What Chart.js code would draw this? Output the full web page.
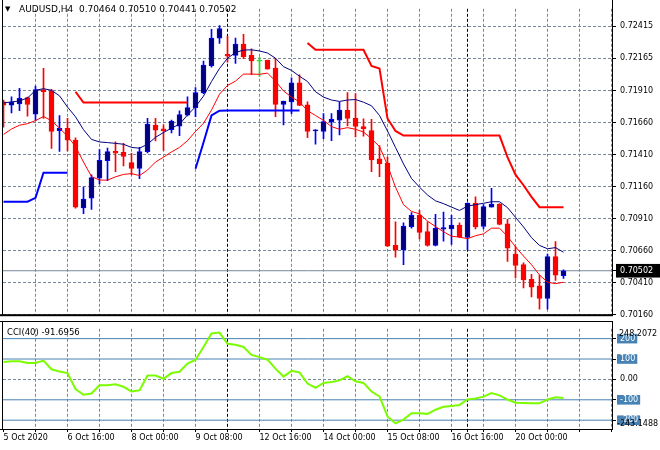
<!DOCTYPE html>
<html>
<head>
<meta charset="utf-8">
<script src="https://cdn.jsdelivr.net/npm/chart.js@4.4.1/dist/chart.umd.min.js"></script>
<style>
  body { margin: 0; background: #fff; }
  #wrap { position: relative; width: 660px; height: 450px; overflow: hidden; font-family: "DejaVu Sans", sans-serif; }
  canvas { position: absolute; left: 0; }
  #main { top: 0; }
  #cci { top: 320px; }
  .lbl { position: absolute; white-space: pre; color: #000; line-height: 1; }
</style>
</head>
<body>
<div id="wrap">
  <canvas id="main" width="660" height="324"></canvas>
  <canvas id="cci" width="660" height="130"></canvas>
  <div class="lbl" style="left:5px;top:6px;font-size:7px">▼</div>
  <div class="lbl" id="title" style="left:19px;top:5px;font-size:9px"></div>
  <div class="lbl" id="cciTitle" style="left:7px;top:328px;font-size:8.5px"></div>
</div>
<script>
const symbol = 'AUDUSD,H4';

const openPrices = [
  0.71823, 0.71797, 0.71808, 0.71857, 0.71728, 0.71920, 0.71909, 0.71598, 0.71616, 0.71525,
  0.70994, 0.71070, 0.71226, 0.71363, 0.71436, 0.71429, 0.71348, 0.71302, 0.71434, 0.71641,
  0.71613, 0.71606, 0.71634, 0.71719, 0.71778, 0.71894, 0.72104, 0.72322, 0.72195, 0.72187,
  0.72276, 0.72187, 0.72142, 0.72150, 0.72089, 0.71803, 0.71823, 0.71973, 0.71800, 0.71596,
  0.71592, 0.71666, 0.71681, 0.71757, 0.71694, 0.71631, 0.71598, 0.71378, 0.71345, 0.70700,
  0.70665, 0.70847, 0.70936, 0.70809, 0.70700, 0.70827, 0.70829, 0.70860, 0.70763, 0.71032,
  0.70848, 0.70999, 0.71024, 0.70870, 0.70632, 0.70551, 0.70435, 0.70384, 0.70285, 0.70612,
  0.70464
];
const highPrices = [
  0.71838, 0.71863, 0.71929, 0.71861, 0.71948, 0.72087, 0.71922, 0.71717, 0.71694, 0.71543,
  0.71156, 0.71252, 0.71451, 0.71461, 0.71510, 0.71499, 0.71421, 0.71467, 0.71694, 0.71694,
  0.71643, 0.71681, 0.71753, 0.71863, 0.71935, 0.72142, 0.72392, 0.72420, 0.72339, 0.72322,
  0.72352, 0.72238, 0.72172, 0.72150, 0.72162, 0.71829, 0.72011, 0.72036, 0.71823, 0.71607,
  0.71732, 0.71732, 0.71821, 0.71897, 0.71889, 0.71690, 0.71687, 0.71482, 0.71391, 0.70885,
  0.70877, 0.70958, 0.70974, 0.70885, 0.70943, 0.70962, 0.70936, 0.70877, 0.71034, 0.71080,
  0.71019, 0.71146, 0.71027, 0.70905, 0.70691, 0.70564, 0.70473, 0.70467, 0.70632, 0.70731,
  0.70510
];
const lowPrices = [
  0.71626, 0.71738, 0.71755, 0.71712, 0.71679, 0.71694, 0.71459, 0.71436, 0.71440, 0.70992,
  0.70948, 0.70981, 0.71181, 0.71206, 0.71277, 0.71322, 0.71252, 0.71222, 0.71425, 0.71518,
  0.71444, 0.71580, 0.71560, 0.71713, 0.71707, 0.71888, 0.72096, 0.72281, 0.72134, 0.72124,
  0.72162, 0.72036, 0.72023, 0.72079, 0.71707, 0.71643, 0.71732, 0.71793, 0.71543, 0.71492,
  0.71535, 0.71520, 0.71565, 0.71636, 0.71550, 0.71555, 0.71277, 0.71239, 0.70693, 0.70609,
  0.70549, 0.70835, 0.70751, 0.70695, 0.70697, 0.70733, 0.70708, 0.70761, 0.70666, 0.70829,
  0.70829, 0.70999, 0.70860, 0.70574, 0.70446, 0.70367, 0.70298, 0.70202, 0.70202, 0.70427,
  0.70441
];
const closePrices = [
  0.71797, 0.71821, 0.71851, 0.71803, 0.71920, 0.71903, 0.71593, 0.71616, 0.71524, 0.70999,
  0.71062, 0.71231, 0.71366, 0.71434, 0.71423, 0.71396, 0.71302, 0.71434, 0.71649, 0.71603,
  0.71599, 0.71674, 0.71725, 0.71778, 0.71897, 0.72112, 0.72322, 0.72398, 0.72182, 0.72276,
  0.72175, 0.72144, 0.72142, 0.72079, 0.71803, 0.71829, 0.71973, 0.71795, 0.71592, 0.71601,
  0.71669, 0.71687, 0.71760, 0.71694, 0.71631, 0.71613, 0.71370, 0.71340, 0.70695, 0.70662,
  0.70852, 0.70936, 0.70801, 0.70700, 0.70833, 0.70839, 0.70860, 0.70769, 0.71032, 0.70845,
  0.71004, 0.71024, 0.70864, 0.70678, 0.70543, 0.70430, 0.70374, 0.70285, 0.70612, 0.70467,
  0.70502
];

// navy average and red average
const maSlow = [
  0.71816, 0.71823, 0.71831, 0.71854, 0.71914, 0.71927, 0.71914, 0.71871, 0.71783, 0.71707,
  0.71606, 0.71530, 0.71510, 0.71505, 0.71499, 0.71492, 0.71467, 0.71461, 0.71492, 0.71546,
  0.71584, 0.71618, 0.71649, 0.71721, 0.71785, 0.71869, 0.71983, 0.72085, 0.72165, 0.72210,
  0.72229, 0.72231, 0.72222, 0.72206, 0.72165, 0.72099, 0.72070, 0.72024, 0.71983, 0.71903,
  0.71861, 0.71838, 0.71827, 0.71838, 0.71842, 0.71821, 0.71793, 0.71717, 0.71596, 0.71467,
  0.71338, 0.71224, 0.71156, 0.71095, 0.71049, 0.71027, 0.71000, 0.70974, 0.71008, 0.71019,
  0.71030, 0.71042, 0.71042, 0.70996, 0.70920, 0.70845, 0.70761, 0.70700, 0.70674, 0.70683,
  0.70647
];
const maFast = [
  0.71569, 0.71611, 0.71641, 0.71653, 0.71677, 0.71709, 0.71675, 0.71618, 0.71555, 0.71474,
  0.71353, 0.71239, 0.71212, 0.71211, 0.71237, 0.71256, 0.71262, 0.71247, 0.71290, 0.71353,
  0.71391, 0.71432, 0.71467, 0.71520, 0.71592, 0.71656, 0.71759, 0.71884, 0.71952, 0.71986,
  0.72041, 0.72041, 0.72039, 0.72049, 0.71986, 0.71909, 0.71861, 0.71823, 0.71755, 0.71717,
  0.71679, 0.71630, 0.71609, 0.71622, 0.71609, 0.71588, 0.71535, 0.71474, 0.71328, 0.71156,
  0.71019, 0.70966, 0.70947, 0.70890, 0.70848, 0.70807, 0.70772, 0.70765, 0.70753, 0.70776,
  0.70791, 0.70835, 0.70835, 0.70771, 0.70689, 0.70617, 0.70549, 0.70469, 0.70412, 0.70401,
  0.70412
];

// thick step lines (null = no line)
const resistance = [
  null, null, null, null, null, null, null, null, null, 0.71903,
  0.71818, 0.71818, 0.71818, 0.71818, 0.71818, 0.71818, 0.71818, 0.71818, 0.71818, 0.71818,
  0.71818, 0.71818, 0.71818, 0.71818, null, null, null, null, null, null,
  null, null, null, null, null, null, null, null, 0.72284, 0.72231,
  0.72231, 0.72231, 0.72231, 0.72231, 0.72231, 0.72231, 0.72104, 0.72085, 0.71694, 0.71596,
  0.71560, 0.71560, 0.71560, 0.71560, 0.71560, 0.71560, 0.71560, 0.71560, 0.71560, 0.71560,
  0.71560, 0.71560, 0.71560, 0.71391, 0.71254, 0.71171, 0.71080, 0.70999, 0.70999, 0.70999,
  0.70999
];
const support = [
  0.71042, 0.71042, 0.71042, 0.71042, 0.71072, 0.71269, 0.71269, 0.71269, 0.71269, null,
  null, null, null, null, null, null, null, null, null, null,
  null, null, null, null, 0.71300, 0.71505, 0.71717, 0.71755, 0.71757, 0.71757,
  0.71757, 0.71757, 0.71757, 0.71757, 0.71757, 0.71757, 0.71757, 0.71757, null, null,
  null, null, null, null, null, null, null, null, null, null,
  null, null, null, null, null, null, null, null, null, null,
  null, null, null, null, null, null, null, null, null, null,
  null
];

const cciValues = [
  85.8, 88.9, 88.9, 81.1, 81.1, 92.0, 49.9, 38.9, 31.1, -47.0,
  -75.2, -68.9, -28.3, -28.3, -23.6, -36.1, -59.5, -53.3, 18.6, 18.6,
  3.0, 31.1, 37.3, 78.0, 96.7, 159.2, 224.9, 229.6, 174.9, 170.2,
  159.2, 120.2, 109.2, 96.7, 53.0, 13.9, 42.0, 34.2, -20.5, -40.8,
  -17.3, -12.7, -4.8, 15.5, -9.5, -17.3, -59.5, -83.0, -181.4, -215.8,
  -197.0, -165.8, -165.8, -168.9, -148.6, -134.5, -129.9, -125.2, -98.6, -93.9,
  -84.5, -67.4, -78.3, -98.6, -114.2, -115.8, -117.3, -117.3, -98.6, -87.7,
  -91.6956
];
const cciPeriod = 40;
const cciMax = 248.2072;
const cciMin = -243.1488;
const cciTicks = [200, 100, 0, -100, -200];
const cciLevels = [200, 100, -100, -200];

const priceTicks = [0.72415, 0.72165, 0.71910, 0.71660, 0.71410, 0.71160, 0.70910, 0.70660, 0.70410, 0.70160];
const gridBars = [0, 4, 8, 12, 16, 20, 24, 28, 32, 36, 40, 44, 48, 52, 56, 58, 60, 64, 68, 72, 76];
const weekBars = [28, 58];
const timeBars = [0, 8, 16, 24, 32, 40, 48, 56, 64];
const timeLabels = ['5 Oct 2020', '6 Oct 16:00', '8 Oct 00:00', '9 Oct 08:00', '12 Oct 16:00',
                    '14 Oct 00:00', '15 Oct 08:00', '16 Oct 16:00', '20 Oct 00:00'];

const FONT = { family: '"DejaVu Sans", sans-serif', size: 8 };
const xMin = -0.0625;
const xMax = 76.0625;
const last = closePrices.length - 1;
const lastClose = closePrices[last];

document.getElementById('title').textContent = symbol + '  ' +
  [openPrices[last], highPrices[last], lowPrices[last], closePrices[last]].map(v => v.toFixed(5)).join(' ');
document.getElementById('cciTitle').textContent = 'CCI(' + cciPeriod + ') ' + cciValues[last].toFixed(4);

const pts = arr => arr.map((v, i) => ({ x: i, y: v }));

function candleColor(i) {
  if (closePrices[i] > openPrices[i]) return '#0000ff';
  if (closePrices[i] < openPrices[i]) return '#ff0000';
  return '#22dd22';
}
function bodyFill(i) {
  return closePrices[i] > openPrices[i] ? '#000080' : candleColor(i);
}

function xGridColor(ctx) {
  const v = ctx.tick ? ctx.tick.value : null;
  if (weekBars.includes(v)) return '#000';
  if (v === 0) return 'rgba(0,0,0,0)';
  return '#778899';
}

const frame = {
  id: 'frame',
  afterDraw(chart) {
    const { ctx, chartArea: a } = chart;
    const isCci = chart.canvas.id === 'cci';
    ctx.save();
    ctx.fillStyle = '#000';
    ctx.fillRect(2, isCci ? 1 : 0, 1, a.bottom);
    ctx.fillRect(a.right, isCci ? 1 : 0, 1, a.bottom);
    if (isCci) {
      ctx.fillRect(0, 1, a.right + 1, 1);
      ctx.fillRect(0, a.bottom, a.right + 1, 1);
    } else {
      ctx.fillRect(0, a.bottom - 1, a.right + 1, 2);
    }
    ctx.restore();
  }
};

const cciRange = {
  id: 'cciRange',
  afterDraw(chart) {
    const { ctx, chartArea: a } = chart;
    ctx.save();
    ctx.font = '8px "DejaVu Sans"';
    ctx.fillStyle = '#000';
    ctx.textBaseline = 'middle';
    ctx.fillText(cciMax.toFixed(4), a.right + 7, a.top + 5);
    ctx.fillText(cciMin.toFixed(4), a.right + 5, a.bottom - 5);
    ctx.restore();
  }
};

function xScale(showLabels) {
  return {
    type: 'linear',
    min: xMin,
    max: xMax,
    offset: false,
    afterBuildTicks: s => { s.ticks = gridBars.map(v => ({ value: v })); },
    afterFit: s => { s.height = showLabels ? 21 : 0; },
    ticks: {
      display: showLabels,
      autoSkip: false,
      maxRotation: 0,
      align: 'start',
      padding: 1,
      font: FONT,
      color: '#000',
      callback: v => {
        const i = timeBars.indexOf(v);
        return i >= 0 ? timeLabels[i] : '';
      }
    },
    grid: { offset: false, color: xGridColor, drawTicks: showLabels, tickLength: 3, tickColor: '#000' },
    border: { display: false, dash: [3, 2] }
  };
}

new Chart(document.getElementById('main'), {
  type: 'bar',
  data: {
    datasets: [
      {
        type: 'line', data: [{ x: xMin, y: lastClose }, { x: xMax, y: lastClose }],
        borderColor: '#778899', borderWidth: 1, pointRadius: 0, order: 10
      },
      {
        data: lowPrices.map((lo, i) => ({ x: i, y: [lo, highPrices[i]] })),
        backgroundColor: openPrices.map((_, i) => candleColor(i)),
        barThickness: 1, grouped: false, order: 6
      },
      {
        data: openPrices.map((o, i) => ({ x: i, y: [o, closePrices[i]] })),
        backgroundColor: openPrices.map((_, i) => bodyFill(i)),
        borderColor: openPrices.map((_, i) => candleColor(i)),
        borderWidth: 1, borderSkipped: false, barThickness: 5, minBarLength: 1,
        grouped: false, order: 5
      },
      { type: 'line', data: pts(maSlow), borderColor: '#000080', borderWidth: 1, pointRadius: 0, order: 3 },
      { type: 'line', data: pts(maFast), borderColor: '#ff0000', borderWidth: 1, pointRadius: 0, order: 3 },
      { type: 'line', data: pts(resistance), borderColor: '#ff0000', borderWidth: 2, pointRadius: 0, order: 2 },
      { type: 'line', data: pts(support), borderColor: '#0000ff', borderWidth: 2, pointRadius: 0, order: 2 }
    ]
  },
  options: {
    responsive: false,
    animation: false,
    events: [],
    layout: { padding: { left: 3, right: 0, top: 2, bottom: 6 } },
    plugins: { legend: { display: false }, tooltip: { enabled: false } },
    scales: {
      x: xScale(false),
      y: {
        position: 'right',
        min: 0.70154,
        max: 0.72552,
        afterBuildTicks: s => { s.ticks = priceTicks.concat([lastClose]).map(v => ({ value: v })); },
        afterFit: s => { s.width = 48; },
        ticks: {
          autoSkip: false,
          padding: 4,
          font: FONT,
          color: ctx => (ctx.tick && ctx.tick.value === lastClose) ? '#fff' : '#000',
          showLabelBackdrop: ctx => !!(ctx.tick && ctx.tick.value === lastClose),
          backdropColor: '#000',
          backdropPadding: { top: 2, bottom: 2, left: 4, right: 10 },
          callback: v => v.toFixed(5)
        },
        grid: {
          color: ctx => (ctx.tick && ctx.tick.value === lastClose) ? 'rgba(0,0,0,0)' : '#778899',
          tickLength: 4,
          tickColor: '#000'
        },
        border: { display: false, dash: [3, 2] }
      }
    }
  },
  plugins: [frame]
});

new Chart(document.getElementById('cci'), {
  type: 'line',
  data: {
    datasets: cciLevels.map(lv => ({
      data: [{ x: xMin, y: lv }, { x: xMax, y: lv }],
      borderColor: '#4682b4', borderWidth: 1, pointRadius: 0, order: 5
    })).concat([
      { data: pts(cciValues), borderColor: '#7cfc00', borderWidth: 2, pointRadius: 0, order: 1 }
    ])
  },
  options: {
    responsive: false,
    animation: false,
    events: [],
    layout: { padding: { left: 3, right: 0, top: 4.4, bottom: 0 } },
    plugins: { legend: { display: false }, tooltip: { enabled: false } },
    scales: {
      x: xScale(true),
      y: {
        position: 'right',
        min: cciMin,
        max: cciMax,
        afterBuildTicks: s => { s.ticks = cciTicks.map(v => ({ value: v })); },
        afterFit: s => { s.width = 48; },
        ticks: {
          autoSkip: false,
          padding: 4,
          font: FONT,
          color: ctx => (ctx.tick && ctx.tick.value === 0) ? '#000' : '#fff',
          showLabelBackdrop: ctx => !!(ctx.tick && ctx.tick.value !== 0),
          backdropColor: '#4682b4',
          backdropPadding: { top: 0, bottom: 0, left: 3, right: 2 },
          callback: v => v === 0 ? '0.00' : String(v)
        },
        grid: {
          color: ctx => (ctx.tick && ctx.tick.value === 0) ? '#778899' : 'rgba(0,0,0,0)',
          tickLength: 4,
          tickColor: '#000'
        },
        border: { display: false, dash: [3, 2] }
      }
    }
  },
  plugins: [frame, cciRange]
});
</script>
</body>
</html>
